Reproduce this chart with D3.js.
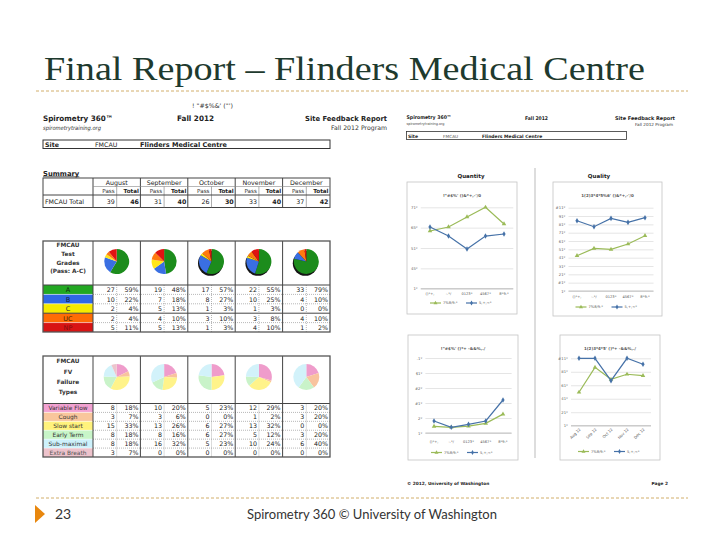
<!DOCTYPE html>
<html>
<head>
<meta charset="utf-8">
<script src="https://cdn.jsdelivr.net/npm/d3@7"></script>
<style>
body { margin: 0; background: #fff; }
svg { display: block; }
</style>
</head>
<body>
<svg width="720" height="540"></svg>
<script>
// ---- data ----
const slideTitle = "Final Report \u2013 Flinders Medical Centre"
const footerText = "Spirometry 360 \u00a9 University of Washington"
const slideNumber = "23"

const months = ["August", "September", "October", "November", "December"]
const summaryPass = [39, 31, 26, 33, 37]
const summaryTotal = [46, 40, 30, 40, 42]

const gradeNames = ["A", "B", "C", "UC", "NP"]
const gradeCounts = [
  [27, 19, 17, 22, 33],
  [10, 7, 8, 10, 4],
  [2, 5, 1, 1, 0],
  [2, 4, 3, 3, 4],
  [5, 5, 1, 4, 1]
]
const gradePct = [
  [59, 48, 57, 55, 79],
  [22, 18, 27, 25, 10],
  [4, 13, 3, 3, 0],
  [4, 10, 10, 8, 10],
  [11, 13, 3, 10, 2]
]

const failNames = ["Variable Flow", "Cough", "Slow start", "Early Term", "Sub-maximal", "Extra Breath"]
const failCounts = [
  [8, 10, 5, 12, 3],
  [3, 3, 0, 1, 3],
  [15, 13, 6, 13, 0],
  [8, 8, 6, 5, 3],
  [8, 16, 5, 10, 6],
  [3, 0, 0, 0, 0]
]
const failPct = [
  [18, 20, 23, 29, 20],
  [7, 6, 0, 2, 20],
  [33, 26, 27, 32, 0],
  [18, 16, 27, 12, 20],
  [18, 32, 23, 24, 40],
  [7, 0, 0, 0, 0]
]

// line charts on the second report page (site = green, all sites = blue)
const chartCats = ["Aug 12", "Sep 12", "Oct 12", "Nov 12", "Dec 12"]
const garbledCats = ["()*+,", "-.*/", "0123*", "4567*", "8*9:*"]
const quantitySite = [70.9, 75.8, 88.2, 100, 79.5]
const quantityAll = [75.8, 64.7, 48.8, 64.7, 67.2]
const qualitySite = [42.4, 51.2, 50, 56.4, 66.4]
const qualityAll = [84.4, 77.2, 87.2, 82.4, 88]
const fvSite = [2.2, 1.9, 2.3, 3.2, 6.3]
const fvAll = [4.0, 1.9, 2.9, 4.0, 11.0]
const gradeSite = [49.6, 86.6, 68.8, 76.3, 74.2]
const gradeAll = [100, 100, 66.8, 100, 91.1]

const quantityTicks = [0, 25, 50, 75, 100]
const quantityTickLabels = ["1*", "45*", "51*", "65*", "71*"]
const qualityTicks = [0, 10, 20, 30, 40, 50, 60, 70, 80, 90, 100]
const qualityTickLabels = ["1*", "#1*", "21*", "31*", "41*", "51*", "61*", "71*", "81*", "91*", "#11*"]
const fvTicks = [0, 5, 10, 15, 20, 25]
const fvTickLabels = ["1*", "2*", "#1*", "#2*", "$1*", ".1*"]
const gradeTicks = [0, 20, 40, 60, 80, 100]
const gradeTickLabels = ["1*", "21*", "41*", "61*", "81*", "#11*"]

// ---- drawing ----
const svg = d3.select("svg")
svg.append("rect").attr("width", 720).attr("height", 540).attr("fill", "#fff")

function txt(g, x, y, s, size, o = {}) {
  const t = g.append("text")
    .attr("x", x).attr("y", y)
    .attr("font-family", o.family || "DejaVu Sans")
    .attr("font-size", size)
    .attr("font-weight", o.bold ? "bold" : null)
    .attr("font-style", o.italic ? "italic" : null)
    .attr("text-anchor", o.anchor || "start")
    .attr("fill", o.fill || "#222")
    .text(s)
  if (o.len) t.attr("textLength", o.len).attr("lengthAdjust", "spacingAndGlyphs")
  return t
}

function hline(g, x1, x2, y, stroke, w, dash) {
  g.append("line").attr("x1", x1).attr("x2", x2).attr("y1", y).attr("y2", y)
    .attr("stroke", stroke).attr("stroke-width", w).attr("stroke-dasharray", dash || null)
}
function vline(g, x, y1, y2, stroke, w, dash) {
  g.append("line").attr("x1", x).attr("x2", x).attr("y1", y1).attr("y2", y2)
    .attr("stroke", stroke).attr("stroke-width", w).attr("stroke-dasharray", dash || null)
}

// slide frame
txt(svg, 44, 80, slideTitle, 33, { family: "Liberation Serif", fill: "#1e3a2e", len: 601 })
hline(svg, 36, 688, 91, "#d2ae6a", 1, "3,2")
hline(svg, 36, 688, 498, "#d2ae6a", 1, "3,2")
svg.append("path").attr("d", "M35,505L45,514L35,523Z").attr("fill", "#e8870e")
txt(svg, 55, 519, slideNumber, 14, { family: "Lato", fill: "#333" })
txt(svg, 372, 519, footerText, 14, { family: "Lato", fill: "#333", anchor: "middle", len: 250 })

// ---------- left report page ----------
const L = svg.append("g")
const mx = d3.scaleBand().domain(months).range([93, 330])
const bw = mx.bandwidth()

txt(L, 192, 108, "! \"#$%&' (\"')", 6.3, { fill: "#333" })
txt(L, 43, 121, "Spirometry 360\u2122", 7.5, { bold: true, len: 70 })
txt(L, 43, 129.5, "spirometrytraining.org", 5.8, { italic: true, fill: "#333", len: 58 })
txt(L, 177, 121, "Fall 2012", 7.5, { bold: true, len: 37 })
txt(L, 387, 121, "Site Feedback Report", 7, { bold: true, anchor: "end", len: 82 })
txt(L, 387, 130, "Fall 2012 Program", 6.2, { anchor: "end", fill: "#333" })

L.append("rect").attr("x", 43).attr("y", 140).attr("width", 287).attr("height", 8.5)
  .attr("fill", "none").attr("stroke", "#333").attr("stroke-width", 1)
txt(L, 45, 147, "Site", 6.3, { bold: true })
txt(L, 95, 147, "FMCAU", 6.3)
txt(L, 140, 147, "Flinders Medical Centre", 6.5, { bold: true })

txt(L, 43, 175.5, "Summary", 6.8, { bold: true }).attr("text-decoration", "underline")

// summary table
const sy = [178, 186.5, 195, 207.5]
L.append("rect").attr("x", 43).attr("y", sy[0]).attr("width", 287).attr("height", sy[3] - sy[0])
  .attr("fill", "none").attr("stroke", "#444").attr("stroke-width", 1)
vline(L, 93, sy[0], sy[3], "#444", 1)
months.forEach((m, j) => {
  if (j > 0) vline(L, mx(m), sy[0], sy[3], "#444", 1)
  vline(L, mx(m) + bw / 2, sy[1], sy[3], "#777", 0.6)
  txt(L, mx(m) + bw / 2, sy[0] + 6.7, m, 6.3, { anchor: "middle" })
  txt(L, mx(m) + bw / 2 - 2, sy[1] + 6.7, "Pass", 5.6, { anchor: "end", fill: "#333" })
  txt(L, mx(m) + bw - 1.5, sy[1] + 6.7, "Total", 5.6, { anchor: "end", bold: true })
  txt(L, mx(m) + bw / 2 - 2, sy[2] + 8.7, summaryPass[j], 6.3, { anchor: "end" })
  txt(L, mx(m) + bw - 1.5, sy[2] + 8.7, summaryTotal[j], 6.3, { anchor: "end", bold: true })
})
hline(L, 93, 330, sy[1], "#888", 0.6)
hline(L, 43, 330, sy[2], "#444", 1)
txt(L, 45, sy[2] + 8.7, "FMCAU Total", 6.3)

// tables with pies
function pieTable(cfg) {
  const g = svg.append("g")
  const n = cfg.names.length
  const rowH = (cfg.y1 - cfg.yh) / n
  cfg.names.forEach((name, i) => {
    g.append("rect").attr("x", 43).attr("y", cfg.yh + i * rowH).attr("width", 50).attr("height", rowH)
      .attr("fill", cfg.labelColors[i])
  })
  const pie = d3.pie().sort(null)
  const arc = d3.arc().innerRadius(0).outerRadius(cfg.r)
  months.forEach((m, j) => {
    const cg = g.append("g").attr("transform", `translate(${mx(m) + bw / 2},${cfg.pieY})`)
    if (cfg.shadow && j >= 2) {
      cg.append("circle").attr("cx", -1).attr("cy", 1.8).attr("r", cfg.r).attr("fill", "#151515")
    }
    cg.selectAll("path").data(pie(cfg.counts.map(r => r[j]))).join("path")
      .attr("d", arc).attr("fill", (d, i) => cfg.pieColors[i])
  })
  cfg.header.forEach((s, k) => txt(g, 68, cfg.headY[k], s, 5.8, { anchor: "middle", bold: true, fill: "#333" }))
  cfg.names.forEach((name, i) => {
    const yb = cfg.yh + i * rowH + rowH * 0.78
    txt(g, 68, yb, name, cfg.labelSize, { anchor: "middle", fill: cfg.labelText[i] })
    months.forEach((m, j) => {
      txt(g, mx(m) + bw / 2 - 2, yb, cfg.counts[i][j], 6.3, { anchor: "end" })
      txt(g, mx(m) + bw - 2, yb, cfg.pct[i][j] + "%", 6.3, { anchor: "end" })
    })
    if (i > 0) {
      const yl = cfg.yh + i * rowH
      if (i === cfg.solidRow) hline(g, 43, 330, yl, "#444", 1)
      else {
        hline(g, 93, 330, yl, "#888", 0.6, "1,1")
        hline(g, 43, 93, yl, "#fff", 0.5)
      }
    }
  })
  months.forEach((m, j) => {
    vline(g, mx(m), cfg.y0, cfg.y1, "#444", 1)
    vline(g, mx(m) + bw / 2, cfg.yh, cfg.y1, "#888", 0.6, "1,1")
  })
  hline(g, 43, 330, cfg.yh, "#444", 1)
  g.append("rect").attr("x", 43).attr("y", cfg.y0).attr("width", 287).attr("height", cfg.y1 - cfg.y0)
    .attr("fill", "none").attr("stroke", "#555").attr("stroke-width", 1.3)
}

pieTable({
  y0: 241, yh: 285, y1: 332, pieY: 261.5, r: 12.5, shadow: true, solidRow: 3,
  names: gradeNames, counts: gradeCounts, pct: gradePct, labelSize: 6.5,
  labelColors: ["#22a822", "#3068e6", "#f6ea00", "#ff6c05", "#d81414"],
  labelText: ["#103010", "#0c1a40", "#333", "#402000", "#801010"],
  pieColors: ["#1c8c1c", "#3a6fe2", "#ffe61a", "#ff7a10", "#e01212"],
  header: ["FMCAU", "Test", "Grades", "(Pass: A-C)"], headY: [247, 255.5, 264.5, 273]
})

pieTable({
  y0: 356, yh: 403.5, y1: 457, pieY: 377, r: 13, shadow: false, solidRow: -1,
  names: failNames, counts: failCounts, pct: failPct, labelSize: 5.9,
  labelColors: ["#f2a2d2", "#f9c69c", "#fff27c", "#c8f5c8", "#cdf1fb", "#edc3cc"],
  labelText: ["#333", "#333", "#333", "#333", "#333", "#555"],
  pieColors: ["#ef9ccb", "#f8c39e", "#fff38a", "#c9f3c9", "#d2f2fa", "#ecc4cc"],
  header: ["FMCAU", "FV", "Failure", "Types"], headY: [363, 374, 384, 394]
})

// ---------- right report page ----------
const R = svg.append("g")
txt(R, 406.5, 119, "Spirometry 360\u2122", 5, { bold: true, len: 45 })
txt(R, 406.5, 125, "spirometrytraining.org", 3.8, { fill: "#444", len: 38 })
txt(R, 525, 120, "Fall 2012", 5, { bold: true, len: 23 })
txt(R, 675, 119.5, "Site Feedback Report", 5, { bold: true, anchor: "end", len: 60 })
txt(R, 673, 125.5, "Fall 2012 Program", 4.2, { anchor: "end", fill: "#333" })
R.append("rect").attr("x", 406.5).attr("y", 131.5).attr("width", 220).attr("height", 8)
  .attr("fill", "none").attr("stroke", "#333").attr("stroke-width", 0.8)
txt(R, 408, 137.8, "Site", 4.5, { bold: true })
txt(R, 443, 137.8, "FMCAU", 4.3, { fill: "#555" })
txt(R, 482, 137.8, "Flinders Medical Centre", 4.5, { bold: true })
txt(R, 471, 177.5, "Quantity", 5.5, { bold: true, anchor: "middle" })
txt(R, 599, 177.5, "Quality", 5.5, { bold: true, anchor: "middle" })
vline(R, 535, 168, 458, "#aaa", 0.8)
txt(R, 407, 484.5, "\u00a9 2012, University of Washington", 4.3, { bold: true })
txt(R, 668, 484.5, "Page 2", 4.3, { bold: true, anchor: "end" })

const green = "#9bbb59", blue = "#4672a8"

function lineChart(c) {
  const g = svg.append("g")
  g.append("rect").attr("x", c.x0).attr("y", c.y0).attr("width", c.x1 - c.x0).attr("height", c.y1 - c.y0)
    .attr("fill", "#fff").attr("stroke", "#c4c4c4").attr("stroke-width", 0.8)
  txt(g, (c.x0 + c.x1) / 2, c.titleY, c.title, 4, { anchor: "middle", bold: true, fill: "#555" })

  const x = d3.scaleBand().domain(chartCats).range([c.px0, c.px1])
  const y = d3.scaleLinear().domain(c.domain).range([c.py1, c.py0])
  const cx = d => x(d) + x.bandwidth() / 2

  g.append("g").attr("transform", `translate(${c.px0},0)`)
    .call(d3.axisLeft(y).tickValues(c.ticks).tickSize(-(c.px1 - c.px0)).tickPadding(3)
      .tickFormat((d, i) => c.tickLabels[i]))
    .call(a => {
      a.select(".domain").remove()
      a.selectAll("line").attr("stroke", "#d4d4d4").attr("stroke-width", 0.6)
      a.selectAll("text").attr("font-size", 3.8).attr("fill", "#666").attr("font-family", "DejaVu Sans")
    })
  hline(g, c.px0, c.px1, c.py1, "#aaa", 0.7)

  if (c.rotate) {
    chartCats.forEach(d => {
      txt(g, 0, 0, d, 3.8, { anchor: "end", fill: "#555" })
        .attr("transform", `translate(${cx(d) + 2},${c.py1 + 4}) rotate(-45)`)
    })
  } else {
    chartCats.forEach((d, i) => txt(g, cx(d), c.xlabY, garbledCats[i], 3.6, { anchor: "middle", fill: "#555" }))
  }

  const line = d3.line().x((d, i) => cx(chartCats[i])).y(d => y(d))
  const series = [
    { v: c.site, color: green, sym: d3.symbolTriangle },
    { v: c.all, color: blue, sym: d3.symbolDiamond }
  ]
  series.forEach(s => {
    g.append("path").datum(s.v).attr("d", line).attr("fill", "none")
      .attr("stroke", s.color).attr("stroke-width", 1.2)
    g.selectAll(null).data(s.v).join("path")
      .attr("d", d3.symbol(s.sym, 9))
      .attr("transform", (d, i) => `translate(${cx(chartCats[i])},${y(d)})`)
      .attr("fill", s.color)
  })

  // legend
  const lx = (c.x0 + c.x1) / 2
  const items = [
    { color: green, sym: d3.symbolTriangle, label: "7%8/9:*", x: lx - 32 },
    { color: blue, sym: d3.symbolDiamond, label: "5,+;<*", x: lx + 4 }
  ]
  items.forEach(it => {
    hline(g, it.x, it.x + 11, c.legendY, it.color, 1.2)
    g.append("path").attr("d", d3.symbol(it.sym, 7)).attr("fill", it.color)
      .attr("transform", `translate(${it.x + 5.5},${c.legendY})`)
    txt(g, it.x + 13, c.legendY + 1.3, it.label, 3.6, { fill: "#555" })
  })
}

lineChart({
  x0: 407, y0: 182, x1: 517, y1: 314, titleY: 197, title: "!\"#$%' ()&*+,-'/0",
  px0: 420.75, px1: 513.25, py0: 207.3, py1: 288.7, xlabY: 295, legendY: 303,
  domain: [0, 100], ticks: quantityTicks, tickLabels: quantityTickLabels,
  site: quantitySite, all: quantityAll
})
lineChart({
  x0: 553, y0: 182, x1: 662, y1: 316, titleY: 196.5, title: "1(2)3*4*5%6' ()&*+,-'/0",
  px0: 568.5, px1: 653.5, py0: 207.7, py1: 291, xlabY: 297.5, legendY: 307,
  domain: [0, 100], ticks: qualityTicks, tickLabels: qualityTickLabels,
  site: qualitySite, all: qualityAll
})
lineChart({
  x0: 408, y0: 335, x1: 518, y1: 460, titleY: 349.5, title: "!\"#$%' ()*+ -&&%,./",
  px0: 425.4, px1: 511.6, py0: 358, py1: 433, xlabY: 443, legendY: 452.5,
  domain: [0, 25], ticks: fvTicks, tickLabels: fvTickLabels,
  site: fvSite, all: fvAll
})
lineChart({
  x0: 560, y0: 335, x1: 660, y1: 460, titleY: 349.5, title: "1(2)3*4*5' ()*+ -&&%,./",
  px0: 571, px1: 651, py0: 358.3, py1: 425.7, legendY: 451.5, rotate: true,
  domain: [0, 100], ticks: gradeTicks, tickLabels: gradeTickLabels,
  site: gradeSite, all: gradeAll
})
</script>
</body>
</html>
